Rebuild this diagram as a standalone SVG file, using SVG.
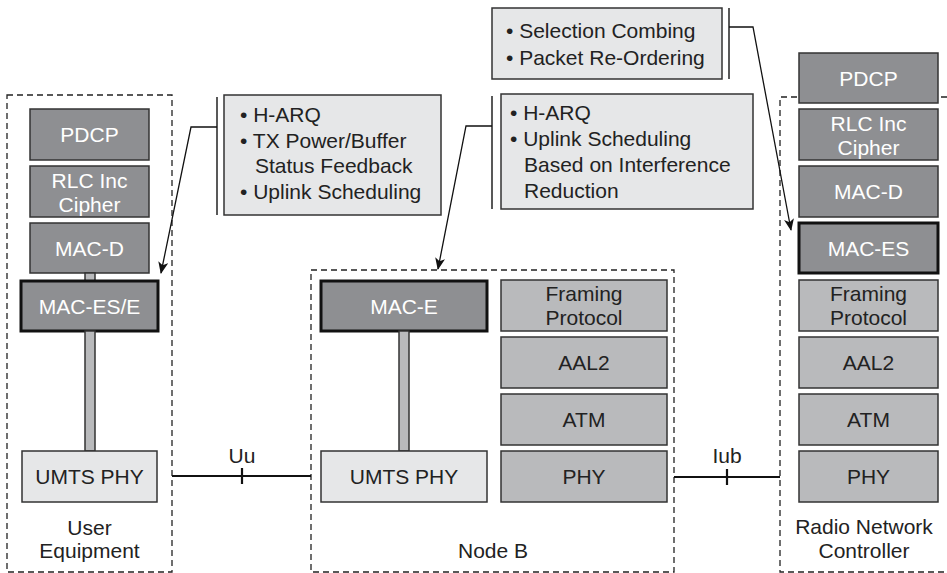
<svg xmlns="http://www.w3.org/2000/svg" width="947" height="573" viewBox="0 0 947 573">
<style>
text{font-family:"Liberation Sans",Arial,sans-serif;font-size:21px;text-anchor:middle;dominant-baseline:central}
.dk{fill:#8e8f92;stroke:#333;stroke-width:1.5}
.md{fill:#b9babc;stroke:#333;stroke-width:1.5}
.lt{fill:#e6e7e8;stroke:#333;stroke-width:1.5}
.thick{stroke:#111;stroke-width:3}
.wt{fill:#fff}
.bk{fill:#222}
.dash{fill:none;stroke:#222;stroke-width:1.3;stroke-dasharray:6,4}
.co text{text-anchor:start;fill:#222}
.bar{stroke:#222;stroke-width:1.5}
.ln{fill:none;stroke:#111;stroke-width:1.3}
</style>
<defs>
<marker id="ah" viewBox="0 0 12 10" refX="11" refY="5" markerWidth="12" markerHeight="10" markerUnits="userSpaceOnUse" orient="auto">
<path d="M0,0 L12,5 L0,10 L3,5 Z" fill="#111"/>
</marker>
</defs>

<g id="frames">
<rect class="dash" x="7" y="95" width="165" height="477"/>
<rect class="dash" x="311" y="270" width="363" height="302"/>
<path class="dash" d="M947,97 H780 V572 H947"/>
</g>

<g id="ue">
<g id="ue-pdcp"><rect class="dk" x="30" y="109" width="119" height="51"/><text class="wt" x="89.5" y="134.5">PDCP</text></g>
<g id="ue-rlc"><rect class="dk" x="30" y="166" width="119" height="51"/><text class="wt" x="89.5" y="180">RLC Inc</text><text class="wt" x="89.5" y="204">Cipher</text></g>
<g id="ue-macd"><rect class="dk" x="30" y="223" width="119" height="50"/><text class="wt" x="89.5" y="248">MAC-D</text></g>
<rect class="md" x="85" y="273" width="10" height="8"/>
<g id="ue-maces"><rect class="dk thick" x="21" y="281" width="137" height="50"/><text class="wt" x="89.5" y="306">MAC-ES/E</text></g>
<rect class="md" x="85" y="331" width="10" height="120"/>
<g id="ue-phy"><rect class="lt" x="22" y="451" width="135" height="51"/><text class="bk" x="89.5" y="476.5">UMTS PHY</text></g>
<text class="bk" x="89.5" y="527">User</text>
<text class="bk" x="89.5" y="550">Equipment</text>
</g>

<g id="nodeb">
<g id="nb-mace"><rect class="dk thick" x="321" y="281" width="166" height="50"/><text class="wt" x="404" y="306">MAC-E</text></g>
<rect class="md" x="399" y="331" width="10" height="120"/>
<g id="nb-phy1"><rect class="lt" x="321" y="451" width="166" height="51"/><text class="bk" x="404" y="476.5">UMTS PHY</text></g>
<g id="nb-fp"><rect class="md" x="501" y="280" width="166" height="51"/><text class="bk" x="584" y="293">Framing</text><text class="bk" x="584" y="317">Protocol</text></g>
<g id="nb-aal2"><rect class="md" x="501" y="337" width="166" height="51"/><text class="bk" x="584" y="362.5">AAL2</text></g>
<g id="nb-atm"><rect class="md" x="501" y="394" width="166" height="51"/><text class="bk" x="584" y="419.5">ATM</text></g>
<g id="nb-phy2"><rect class="md" x="501" y="451" width="166" height="51"/><text class="bk" x="584" y="476.5">PHY</text></g>
<text class="bk" x="493" y="550">Node B</text>
</g>

<g id="rnc">
<g id="rnc-pdcp"><rect class="dk" x="799" y="53" width="139" height="50"/><text class="wt" x="868.5" y="78">PDCP</text></g>
<g id="rnc-rlc"><rect class="dk" x="799" y="109" width="139" height="51"/><text class="wt" x="868.5" y="123">RLC Inc</text><text class="wt" x="868.5" y="147">Cipher</text></g>
<g id="rnc-macd"><rect class="dk" x="799" y="166" width="139" height="51"/><text class="wt" x="868.5" y="191.5">MAC-D</text></g>
<g id="rnc-maces"><rect class="dk thick" x="799" y="223" width="139" height="50"/><text class="wt" x="868.5" y="248">MAC-ES</text></g>
<g id="rnc-fp"><rect class="md" x="799" y="280" width="139" height="51"/><text class="bk" x="868.5" y="293">Framing</text><text class="bk" x="868.5" y="317">Protocol</text></g>
<g id="rnc-aal2"><rect class="md" x="799" y="337" width="139" height="51"/><text class="bk" x="868.5" y="362.5">AAL2</text></g>
<g id="rnc-atm"><rect class="md" x="799" y="394" width="139" height="51"/><text class="bk" x="868.5" y="419.5">ATM</text></g>
<g id="rnc-phy"><rect class="md" x="799" y="451" width="139" height="51"/><text class="bk" x="868.5" y="476.5">PHY</text></g>
<text class="bk" x="864" y="526">Radio Network</text>
<text class="bk" x="864" y="550">Controller</text>
</g>

<g id="callout-ue" class="co">
<line class="bar" x1="217" y1="97" x2="217" y2="215"/>
<rect class="lt" x="224" y="95" width="217" height="120"/>
<text x="240" y="114">• H-ARQ</text>
<text x="240" y="140">• TX Power/Buffer</text>
<text x="255" y="165">Status Feedback</text>
<text x="240" y="191">• Uplink Scheduling</text>
</g>

<g id="callout-nb" class="co">
<line class="bar" x1="492" y1="96" x2="492" y2="209"/>
<rect class="lt" x="501" y="94" width="252" height="115"/>
<text x="510" y="112">• H-ARQ</text>
<text x="510" y="138">• Uplink Scheduling</text>
<text x="524" y="164">Based on Interference</text>
<text x="524" y="190">Reduction</text>
</g>

<g id="callout-rnc" class="co">
<line class="bar" x1="729" y1="8" x2="729" y2="79"/>
<rect class="lt" x="492" y="8" width="230" height="71"/>
<text x="506" y="30">• Selection Combing</text>
<text x="506" y="57">• Packet Re-Ordering</text>
</g>

<g id="connectors">
<path class="ln" d="M217,127 H191 L161,273" marker-end="url(#ah)"/>
<path class="ln" d="M492,126 H466 L438,269" marker-end="url(#ah)"/>
<path class="ln" d="M729,27 H753 L791,230" marker-end="url(#ah)"/>
<line x1="172" y1="476" x2="311" y2="476" stroke="#111" stroke-width="2"/>
<line x1="242" y1="468" x2="242" y2="484" stroke="#111" stroke-width="2.2"/>
<text class="bk" x="242" y="455">Uu</text>
<line x1="674" y1="477" x2="780" y2="477" stroke="#111" stroke-width="2"/>
<line x1="727" y1="469" x2="727" y2="485" stroke="#111" stroke-width="2.2"/>
<text class="bk" x="727" y="455">Iub</text>
</g>
</svg>
